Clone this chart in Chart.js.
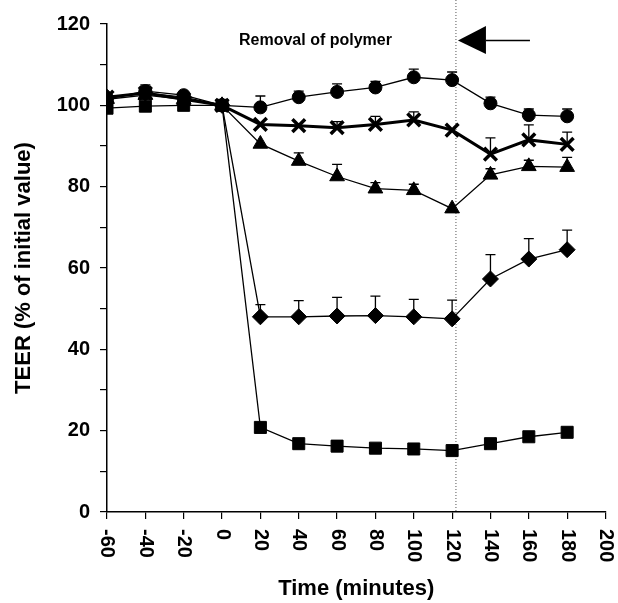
<!DOCTYPE html>
<html lang="en">
<head>
    <meta charset="UTF-8">
    <title>TEER</title>
    <script src="https://cdn.jsdelivr.net/npm/chart.js@4.4.0/dist/chart.umd.min.js"></script>
    <style>
        body { margin: 0; padding: 0; background: #fff; }
        #wrap { width: 618px; height: 603px; }
    </style>
</head>
<body>
<div id="wrap"><canvas id="myChart" width="618" height="603"></canvas></div>
<script>
    // time points (minutes)
    const times = [-60, -40, -20, 0, 20, 40, 60, 80, 100, 120, 140, 160, 180];
    const xTicks = [-60, -40, -20, 0, 20, 40, 60, 80, 100, 120, 140, 160, 180, 200];

    // TEER values, % of initial
    const circleVals   = [101.5, 103.5, 102.5, 100, 99.5, 102, 103.3, 104.4, 106.9, 106.2, 100.5, 97.6, 97.3];
    const crossVals    = [102, 103, 101.5, 100, 95.3, 95, 94.5, 95.3, 96.4, 93.9, 88, 91.5, 90.4];
    const triangleVals = [101.5, 102.5, 101.5, 100, 90.5, 86.3, 82.5, 79.5, 79.1, 74.6, 82.9, 85, 84.8];
    const diamondVals  = [102, 103, 102, 100, 48, 48, 48.2, 48.3, 48, 47.5, 57.3, 62.2, 64.5];
    const squareVals   = [99.3, 99.8, 100, 100, 20.8, 16.8, 16.2, 15.7, 15.5, 15.1, 16.8, 18.5, 19.6];

    // upper error bars (SD), 0 = not shown
    const circleErr   = [0, 1.5, 0, 0, 2.8, 1.5, 2, 1.5, 2, 2, 1.5, 1.5, 1.8];
    const crossErr    = [0, 0, 0, 0, 0, 0, 1.5, 2, 2, 0, 4, 3.7, 3];
    const triangleErr = [0, 0, 0, 0, 0, 2, 3, 1.5, 1.5, 0, 1.5, 1.5, 2.4];
    const diamondErr  = [0, 0, 0, 0, 3, 4, 4.6, 4.8, 4.3, 4.6, 6, 5, 4.8];
    const squareErr   = [0, 0, 0, 0, 0, 0, 0, 0, 0, 0, 0, 0, 0];

    const removalTime = 122;
    const FONT = "'Liberation Sans', Arial, sans-serif";

    function pts(vals) {
        return times.map((t, i) => ({x: t, y: vals[i]}));
    }

    function series(vals, err, style, radius, lineW) {
        return {
            data: pts(vals),
            err: err,
            borderColor: '#000',
            backgroundColor: '#000',
            borderWidth: lineW,
            pointStyle: style,
            pointRadius: radius,
            pointBorderWidth: style === 'crossRot' ? 3.5 : 1,
            pointBackgroundColor: '#000',
            pointBorderColor: '#000',
            tension: 0
        };
    }

    const extras = {
        id: 'extras',
        beforeDatasetsDraw(chart) {
            const ctx = chart.ctx;
            const xs = chart.scales.x, ys = chart.scales.y;
            // dotted removal line
            const px = xs.getPixelForValue(removalTime);
            ctx.save();
            ctx.strokeStyle = '#555';
            ctx.lineWidth = 1;
            ctx.setLineDash([1, 2]);
            ctx.beginPath();
            ctx.moveTo(px, 0);
            ctx.lineTo(px, ys.bottom);
            ctx.stroke();
            ctx.restore();

            // error bars
            ctx.save();
            ctx.strokeStyle = '#000';
            ctx.lineWidth = 1.3;
            chart.data.datasets.forEach((ds, di) => {
                const meta = chart.getDatasetMeta(di);
                meta.data.forEach((p, i) => {
                    const e = ds.err[i];
                    if (!e) return;
                    const top = ys.getPixelForValue(ds.data[i].y + e);
                    ctx.beginPath();
                    ctx.moveTo(p.x, p.y);
                    ctx.lineTo(p.x, top);
                    ctx.moveTo(p.x - 5, top);
                    ctx.lineTo(p.x + 5, top);
                    ctx.stroke();
                });
            });
            ctx.restore();
        },
        afterDraw(chart) {
            const ctx = chart.ctx;
            const xs = chart.scales.x, ys = chart.scales.y;
            ctx.save();
            // rotated x tick labels (clockwise)
            ctx.fillStyle = '#000';
            ctx.font = 'bold 20px ' + FONT;
            ctx.textAlign = 'left';
            ctx.textBaseline = 'middle';
            xTicks.forEach(v => {
                const x = xs.getPixelForValue(v);
                ctx.save();
                ctx.translate(x, ys.bottom + 17);
                ctx.rotate(Math.PI / 2);
                ctx.fillText(String(v), 0, 0);
                ctx.restore();
            });

            // annotation
            ctx.font = 'bold 16px ' + FONT;
            ctx.textAlign = 'left';
            ctx.fillText('Removal of polymer', 239, 41);

            // arrow
            const ax = xs.getPixelForValue(removalTime) + 2;
            ctx.beginPath();
            ctx.moveTo(ax, 40.5);
            ctx.lineTo(ax + 28, 26);
            ctx.lineTo(ax + 28, 54);
            ctx.closePath();
            ctx.fill();
            ctx.lineWidth = 1.5;
            ctx.beginPath();
            ctx.moveTo(ax + 28, 40.5);
            ctx.lineTo(ax + 72, 40.5);
            ctx.stroke();
            ctx.restore();
        }
    };

    const ctx = document.getElementById('myChart').getContext('2d');
    const myChart = new Chart(ctx, {
        type: 'line',
        data: {
            datasets: [
                series(squareVals, squareErr, 'rect', 8.5, 1.3),
                series(diamondVals, diamondErr, 'rectRot', 8, 1.3),
                series(triangleVals, triangleErr, 'triangle', 8.5, 1.3),
                series(circleVals, circleErr, 'circle', 6.5, 1.3),
                series(crossVals, crossErr, 'crossRot', 9, 3)
            ]
        },
        plugins: [extras],
        options: {
            responsive: false,
            animation: false,
            layout: { padding: { top: 24, right: 11.5, left: 0, bottom: 0 } },
            plugins: {
                legend: { display: false },
                tooltip: { enabled: false }
            },
            scales: {
                x: {
                    type: 'linear',
                    min: -60,
                    max: 200,
                    afterFit(scale) { scale.height = 91; },
                    border: { color: '#000', width: 1.5 },
                    grid: { drawOnChartArea: false, color: '#000', tickLength: 7, lineWidth: 1.2 },
                    ticks: { stepSize: 20, callback: () => '', maxRotation: 0 },
                    title: { display: true, text: 'Time (minutes)', color: '#000', font: { size: 22, weight: 'bold', family: FONT }, padding: { top: 0, bottom: 1 } }
                },
                y: {
                    min: 0,
                    max: 120,
                    afterFit(scale) { scale.width = 107; },
                    border: { color: '#000', width: 1.5 },
                    grid: { drawOnChartArea: false, color: '#000', tickLength: 7, lineWidth: 1.2 },
                    ticks: {
                        stepSize: 10,
                        color: '#000',
                        padding: 10,
                        font: { size: 20, weight: 'bold', family: FONT },
                        callback: v => (v % 20 === 0 ? v : '')
                    },
                    title: { display: true, text: 'TEER (% of initial value)', color: '#000', font: { size: 22, weight: 'bold', family: FONT }, padding: { top: 11, bottom: 0 } }
                }
            }
        }
    });
</script>
</body>
</html>
